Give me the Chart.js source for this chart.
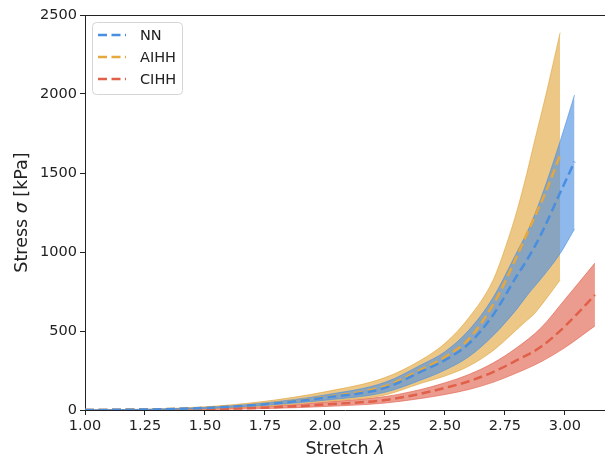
<!DOCTYPE html>
<html>
<head>
<meta charset="utf-8">
<script src="https://cdn.jsdelivr.net/npm/chart.js@4"></script>
<style>
  body { margin: 0; background: #fff; }
  canvas { display: block; }
</style>
</head>
<body>
<canvas id="chart" width="605" height="460"></canvas>
<script>
// Stretch values for each model (curves end at different stretches)
const stretchNN   = [1.0, 1.25, 1.5, 1.75, 2.0, 2.25, 2.4, 2.5, 2.6, 2.7, 2.8, 2.85, 2.9, 2.98, 3.04];
const stretchAIHH = [1.0, 1.25, 1.5, 1.75, 2.0, 2.25, 2.4, 2.5, 2.6, 2.7, 2.75, 2.8, 2.84, 2.87, 2.92, 2.98];
const stretchCIHH = [1.0, 1.25, 1.5, 1.75, 2.0, 2.25, 2.4, 2.5, 2.6, 2.7, 2.8, 2.9, 3.0, 3.125];

// Stress in kPa: mean and band limits
const nnMean    = [0, 3, 13, 37, 78, 140, 243, 316, 420, 600, 850, 970, 1110, 1375, 1572];
const nnUpper   = [0, 4, 16, 45, 95, 175, 285, 369, 506, 710, 1000, 1150, 1340, 1700, 1994];
const nnLower   = [0, 2, 10, 30, 62, 112, 190, 253, 338, 470, 640, 740, 830, 990, 1146];

const aihhMean  = [0, 3, 14, 39, 82, 150, 255, 335, 450, 665, 810, 975, 1110, 1210, 1380, 1614];
const aihhUpper = [0, 5, 20, 55, 115, 205, 316, 422, 585, 820, 1020, 1260, 1490, 1680, 1990, 2388];
const aihhLower = [0, 2, 8, 25, 55, 95, 169, 215, 278, 375, 440, 510, 565, 605, 700, 823];

const cihhMean  = [0, 1.5, 5, 15, 35, 63, 103, 140, 182, 240, 315, 400, 530, 728];
const cihhUpper = [0, 2, 8, 22, 50, 85, 130, 172, 225, 297, 395, 520, 700, 930];
const cihhLower = [0, 1, 3, 9, 22, 44, 73, 98, 130, 175, 235, 305, 395, 532];

const xTickValues = [1.0, 1.25, 1.5, 1.75, 2.0, 2.25, 2.5, 2.75, 3.0];
const yTickValues = [0, 500, 1000, 1500, 2000, 2500];

const modelNames = ['NN', 'AIHH', 'CIHH'];
const lineColors = ['#4a8ee0', '#e6a73c', '#e0604a'];
const bandColors = ['rgba(74,142,224,0.62)', 'rgba(225,165,60,0.62)', 'rgba(224,96,74,0.62)'];

const FONT = "'DejaVu Sans', sans-serif";

function pts(xs, ys) {
    return xs.map((x, i) => ({ x: x, y: ys[i] }));
}

function meanLine(label, xs, ys, color) {
    return {
        label: label,
        data: pts(xs, ys),
        borderColor: color,
        borderWidth: 2.5,
        borderDash: [9, 4.5],
        pointRadius: 0,
        fill: false,
        cubicInterpolationMode: 'monotone'
    };
}

function bandEdge(label, xs, ys, color, fill) {
    return {
        label: label,
        data: pts(xs, ys),
        borderColor: color,
        borderWidth: 1,
        backgroundColor: color,
        pointRadius: 0,
        fill: fill,
        cubicInterpolationMode: 'monotone'
    };
}

// lower index is drawn on top, so the mean lines come first
const datasets = [
    meanLine('NN', stretchNN, nnMean, lineColors[0]),
    meanLine('AIHH', stretchAIHH, aihhMean, lineColors[1]),
    meanLine('CIHH', stretchCIHH, cihhMean, lineColors[2]),
    bandEdge('NN upper', stretchNN, nnUpper, bandColors[0], '+1'),
    bandEdge('NN lower', stretchNN, nnLower, bandColors[0], false),
    bandEdge('AIHH upper', stretchAIHH, aihhUpper, bandColors[1], '+1'),
    bandEdge('AIHH lower', stretchAIHH, aihhLower, bandColors[1], false),
    bandEdge('CIHH upper', stretchCIHH, cihhUpper, bandColors[2], '+1'),
    bandEdge('CIHH lower', stretchCIHH, cihhLower, bandColors[2], false)
];

// top spine, axis titles with italic symbols, and the legend box
const decorations = {
    id: 'decorations',
    afterDraw(chart) {
        const ctx = chart.ctx;
        const area = chart.chartArea;
        ctx.save();

        ctx.strokeStyle = '#222';
        ctx.lineWidth = 1;
        ctx.beginPath();
        ctx.moveTo(area.left, area.top + 0.5);
        ctx.lineTo(area.right, area.top + 0.5);
        ctx.stroke();

        const normal = '17.5px ' + FONT;
        const italic = 'italic 17.5px ' + FONT;
        function mixed(parts, x, y) {
            let total = 0;
            parts.forEach(p => { ctx.font = p[1]; total += ctx.measureText(p[0]).width; });
            let cx = x - total / 2;
            parts.forEach(p => {
                ctx.font = p[1];
                ctx.fillText(p[0], cx, y);
                cx += ctx.measureText(p[0]).width;
            });
        }
        ctx.fillStyle = '#222';
        ctx.textBaseline = 'middle';
        ctx.textAlign = 'left';
        mixed([['Stretch ', normal], ['λ', italic]], (area.left + area.right) / 2, 449);

        ctx.save();
        ctx.translate(22, (area.top + area.bottom) / 2);
        ctx.rotate(-Math.PI / 2);
        mixed([['Stress ', normal], ['σ', italic], [' [kPa]', normal]], 0, 0);
        ctx.restore();

        // legend
        const bx = 92.5, by = 22.5, bw = 90, bh = 72;
        ctx.beginPath();
        ctx.roundRect(bx, by, bw, bh, 4);
        ctx.fillStyle = 'rgba(255,255,255,0.8)';
        ctx.fill();
        ctx.strokeStyle = '#d5d5d5';
        ctx.lineWidth = 1;
        ctx.stroke();

        ctx.font = '14.5px ' + FONT;
        modelNames.forEach((name, i) => {
            const y = 35 + i * 22;
            ctx.strokeStyle = lineColors[i];
            ctx.lineWidth = 2.5;
            ctx.setLineDash([9, 4.5]);
            ctx.beginPath();
            ctx.moveTo(98, y);
            ctx.lineTo(126, y);
            ctx.stroke();
            ctx.setLineDash([]);
            ctx.fillStyle = '#222';
            ctx.fillText(name, 140, y + 1);
        });

        ctx.restore();
    }
};

new Chart(document.getElementById('chart'), {
    type: 'line',
    data: { datasets: datasets },
    options: {
        responsive: false,
        animation: false,
        layout: { padding: { top: 15, right: 0, left: 0, bottom: 0 } },
        plugins: {
            legend: { display: false },
            tooltip: { enabled: false },
            filler: { propagate: false }
        },
        scales: {
            x: {
                type: 'linear',
                min: 1.0,
                max: 3.167,
                afterBuildTicks: s => { s.ticks = xTickValues.map(v => ({ value: v })); },
                afterFit: s => { s.height = 50; },
                grid: { drawOnChartArea: false, drawTicks: true, tickLength: 5, color: '#222' },
                border: { color: '#222', width: 1 },
                ticks: {
                    padding: 3,
                    color: '#222',
                    font: { family: FONT, size: 14.5 },
                    maxRotation: 0,
                    callback: v => Number(v).toFixed(2)
                }
            },
            y: {
                min: 0,
                max: 2500,
                afterBuildTicks: s => { s.ticks = yTickValues.map(v => ({ value: v })); },
                afterFit: s => { s.width = 85; },
                grid: { drawOnChartArea: false, drawTicks: true, tickLength: 5, color: '#222' },
                border: { color: '#222', width: 1 },
                ticks: {
                    padding: 3,
                    color: '#222',
                    font: { family: FONT, size: 14.5 },
                    callback: v => String(v)
                }
            }
        }
    },
    plugins: [decorations]
});
</script>
</body>
</html>
